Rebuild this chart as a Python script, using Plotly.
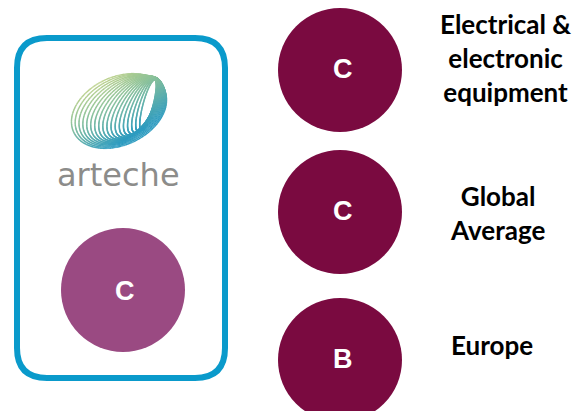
import numpy as np
import plotly.graph_objects as go

# ratings shown
company = "arteche"
company_grade = "C"
groups = ["Electrical &<br>electronic<br>equipment", "Global<br>Average", "Europe"]
group_grades = ["C", "C", "B"]

W, H = 580, 411
OFF = 8  # page body margin
maroon = "#7a0a40"
purple = "#9a4a82"
blue = "#0a9acb"

fig = go.Figure()

# rounded box around the company
x0, y0, x1, y1, r = 17, 38, 225, 378, 30
path = (f"M {x0+r},{y0} L {x1-r},{y0} Q {x1},{y0} {x1},{y0+r} "
        f"L {x1},{y1-r} Q {x1},{y1} {x1-r},{y1} L {x0+r},{y1} "
        f"Q {x0},{y1} {x0},{y1-r} L {x0},{y0+r} Q {x0},{y0} {x0+r},{y0} Z")
fig.add_shape(type="path", path=path, line=dict(color=blue, width=6), layer="below")

# logo: dotted wireframe loop
t = np.linspace(0, 2*np.pi, 260)
n = 18
lx, ly = [], []
for i in range(n):
    f = i / (n - 1)
    cx, cy = 119 + 29*f, 111 - 6*f
    a, b = 50 - 24*f, 34 - 29*f
    ang = np.deg2rad(25 + 50*f)
    ex, ey = a*np.cos(t), b*np.sin(t)
    lx.append(cx + ex*np.cos(ang) - ey*np.sin(ang))
    ly.append(cy - (ex*np.sin(ang) + ey*np.cos(ang)))
lx = np.concatenate(lx)
ly = np.concatenate(ly)
shade = (ly - 75) / 65 + (lx - 80) / 110
fig.add_trace(go.Scatter(x=lx, y=ly, mode="markers", hoverinfo="skip",
                         marker=dict(size=1.6, color=shade, cmin=0.1, cmax=1.4,
                                     colorscale=[[0, "#d2d884"], [0.45, "#8fc39a"],
                                                 [1, "#2f9cc0"]])))

fig.add_annotation(x=118, y=175, text=company, showarrow=False,
                   font=dict(family="DejaVu Sans", size=32, color="#8c8c8a"))

# company grade
cx, cy, rr = 123, 290, 62
fig.add_shape(type="circle", x0=cx-rr, x1=cx+rr, y0=cy-rr, y1=cy+rr,
              fillcolor=purple, line=dict(width=0))
fig.add_annotation(x=cx+2, y=cy+1, text=company_grade, showarrow=False,
                   font=dict(family="Liberation Sans", size=27, color="white", weight="bold"))

# benchmark grades
centers = [70, 212, 360]
label_x = [505, 497, 492]
label_y = [58, 213, 345]
for g, lab, yc, lx_, ly_ in zip(group_grades, groups, centers, label_x, label_y):
    fig.add_shape(type="circle", x0=340-62, x1=340+62, y0=yc-62, y1=yc+62,
                  fillcolor=maroon, line=dict(width=0))
    fig.add_annotation(x=343, y=yc-1, text=g, showarrow=False,
                       font=dict(family="Liberation Sans", size=27, color="white", weight="bold"))
    fig.add_annotation(x=lx_, y=ly_, text=lab, showarrow=False,
                       font=dict(family="Lato", size=26, color="black", weight="bold"))

fig.update_xaxes(range=[OFF, W + OFF], visible=False, fixedrange=True)
fig.update_yaxes(range=[H + OFF, OFF], visible=False, fixedrange=True)
fig.update_layout(width=W, height=H, margin=dict(l=0, r=0, t=0, b=0),
                  plot_bgcolor="white", paper_bgcolor="white", showlegend=False)

fig.write_html("out.html")
